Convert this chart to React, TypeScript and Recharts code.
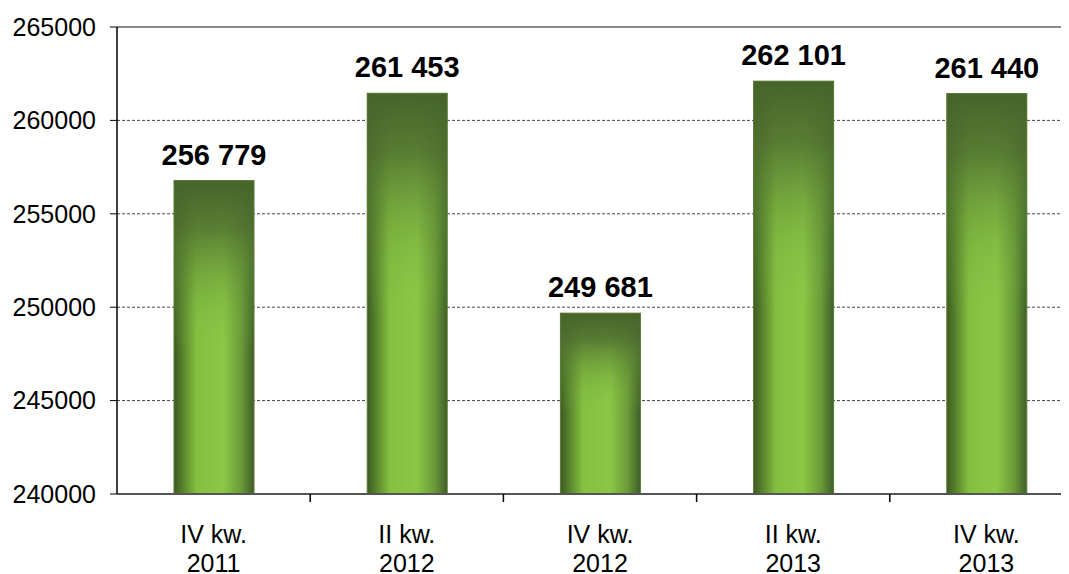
import React from 'react';
import { BarChart, Bar, XAxis, YAxis, CartesianGrid, LabelList, ReferenceLine } from 'recharts';

const quarters = ['IV kw.', 'II kw.', 'IV kw.', 'II kw.', 'IV kw.'];
const years = ['2011', '2012', '2012', '2013', '2013'];
const values = [256779, 261453, 249681, 262101, 261440];
const yTicks = [240000, 245000, 250000, 255000, 260000, 265000];

const data = values.map((v, i) => ({ name: `${quarters[i]}|${years[i]}`, value: v }));

const font = '"Liberation Sans", Arial, sans-serif';

// the original plot runs past the right edge of the picture, so the chart is wider than the view
const CHART_W = 1100;
const CHART_H = 566;
const Y_W = 109;
const RIGHT = 25;
const step = (CHART_W - Y_W - RIGHT) / values.length;

const fmt = (v: number) => String(v).replace(/\B(?=(\d{3})+(?!\d))/g, ' ');

const GradientBar = (props: any) => {
  const { x, y, width, height } = props;
  if (!height || height <= 0) return null;
  return (
    <g>
      <rect x={x} y={y} width={width} height={height} fill="url(#barH)" />
      <rect x={x} y={y} width={width} height={height} fill="url(#barV)" />
      <rect x={x} y={y} width={width} height={height} fill="none" stroke="#5a7a33" strokeWidth={1} />
    </g>
  );
};

const CategoryTick = (props: any) => {
  const { x, y, payload } = props;
  const [q, yr] = String(payload.value).split('|');
  const bx = x + step / 2;
  return (
    <g>
      <line x1={bx} y1={y} x2={bx} y2={y + 8} stroke="#000" strokeWidth={1.5} />
      <text x={x} y={y} textAnchor="middle" fontFamily={font} fontSize={25} fill="#000">
        <tspan x={x} dy={49}>{q}</tspan>
        <tspan x={x} dy={29}>{yr}</tspan>
      </text>
    </g>
  );
};

export default function App() {
  return (
    <div style={{ width: 1061, height: CHART_H, overflow: 'hidden' }}>
      <BarChart
        width={CHART_W}
        height={CHART_H}
        data={data}
        margin={{ top: 19, right: RIGHT, left: 0, bottom: 0 }}
        barSize={80}
      >
        <defs>
          <linearGradient id="barH" x1="0" y1="0" x2="1" y2="0">
            <stop offset="0%" stopColor="#3c5a22" />
            <stop offset="10%" stopColor="#557f2c" />
            <stop offset="28%" stopColor="#84bf40" />
            <stop offset="62%" stopColor="#8cc746" />
            <stop offset="84%" stopColor="#6a9a38" />
            <stop offset="100%" stopColor="#3e5e28" />
          </linearGradient>
          <linearGradient id="barV" x1="0" y1="0" x2="0" y2="1">
            <stop offset="0%" stopColor="#46642a" stopOpacity={1} />
            <stop offset="15%" stopColor="#4f7030" stopOpacity={0.85} />
            <stop offset="38%" stopColor="#6b9a3a" stopOpacity={0.25} />
            <stop offset="55%" stopColor="#8cc746" stopOpacity={0} />
            <stop offset="100%" stopColor="#8cc746" stopOpacity={0} />
          </linearGradient>
        </defs>
        <CartesianGrid vertical={false} stroke="#444" strokeDasharray="3 2" />
        <ReferenceLine y={265000} stroke="#888" strokeWidth={2} />
        <XAxis
          dataKey="name"
          height={80}
          tickLine={false}
          tickSize={0}
          tickMargin={0}
          axisLine={{ stroke: '#555', strokeWidth: 2 }}
          tick={<CategoryTick />}
          interval={0}
        />
        <YAxis
          width={Y_W}
          domain={[240000, 265000]}
          ticks={yTicks}
          tickSize={7}
          tickMargin={14}
          axisLine={{ stroke: '#000', strokeWidth: 1.5 }}
          tickLine={{ stroke: '#000' }}
          tick={{ fontFamily: font, fontSize: 25, fill: '#000' }}
          allowDataOverflow
        />
        <Bar dataKey="value" shape={<GradientBar />} isAnimationActive={false}>
          <LabelList
            dataKey="value"
            position="top"
            offset={16}
            formatter={(v: any) => fmt(Number(v))}
            style={{ fontFamily: font, fontSize: 29, fontWeight: 'bold', fill: '#000' }}
          />
        </Bar>
      </BarChart>
    </div>
  );
}
